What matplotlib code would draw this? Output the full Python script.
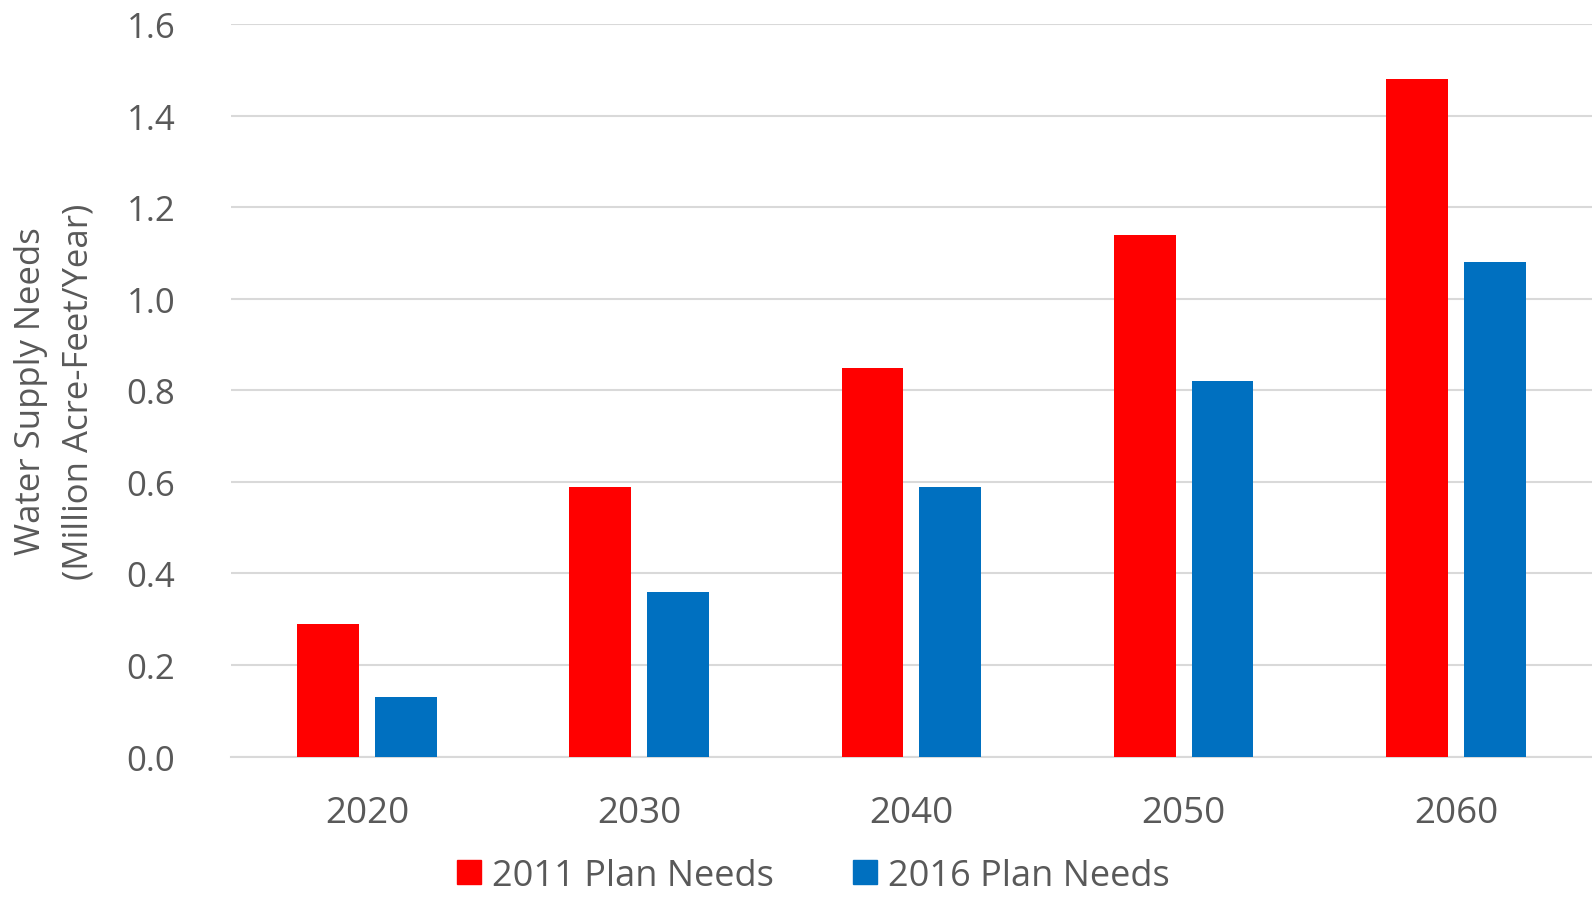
import matplotlib
matplotlib.use("Agg")
import matplotlib.pyplot as plt
import numpy as np
from matplotlib.patches import Patch

years = ["2020", "2030", "2040", "2050", "2060"]
plan_2011 = [0.29, 0.59, 0.85, 1.14, 1.48]
plan_2016 = [0.13, 0.36, 0.59, 0.82, 1.08]
series_names = ["2011 Plan Needs", "2016 Plan Needs"]
yticks = [0.0, 0.2, 0.4, 0.6, 0.8, 1.0, 1.2, 1.4, 1.6]

RED = "#FF0000"
BLUE = "#0070C0"
TXT = "#595959"
GRID = "#D9D9D9"

plt.rcParams['font.family'] = ['Open Sans', 'DejaVu Sans']

fig = plt.figure(figsize=(15.92, 9.04), dpi=100)
ax = fig.add_axes([0.145, 0.162, 0.855, 0.81])

x = np.arange(len(years))
w = 0.227
off = 0.143
ax.bar(x - off, plan_2011, width=w, color=RED, zorder=3)
ax.bar(x + off, plan_2016, width=w, color=BLUE, zorder=3)

ax.set_xlim(-0.5, len(years) - 0.5)
ax.set_ylim(0, 1.6)
ax.set_yticks(yticks)
ax.set_yticklabels([f"{v:.1f}" for v in yticks])
ax.set_xticks(x)
ax.set_xticklabels(years)
ax.tick_params(axis='x', length=0, labelsize=26.5, colors=TXT, pad=28)
ax.tick_params(axis='y', length=0, labelsize=25, colors=TXT, pad=40)
ax.grid(axis='y', color=GRID, linewidth=1.5, zorder=0)
for s in ['top', 'right', 'left']:
    ax.spines[s].set_visible(False)
ax.spines['bottom'].set_color(GRID)
ax.spines['bottom'].set_linewidth(1.5)

ax.set_ylabel("Water Supply Needs\n(Million Acre-Feet/Year)", fontsize=25,
              color=TXT, family=['Open Sans', 'DejaVu Sans'],
              labelpad=22, linespacing=1.55)

handles = [Patch(color=RED), Patch(color=BLUE)]
leg = fig.legend(handles, series_names, loc='center', bbox_to_anchor=(0.511, 0.03),
                 ncol=2, frameon=False, fontsize=26, handlelength=0.66, handleheight=0.66,
                 handletextpad=0.3, columnspacing=2.2)
for t in leg.get_texts():
    t.set_color(TXT)

fig.savefig("out.png", dpi=100)
